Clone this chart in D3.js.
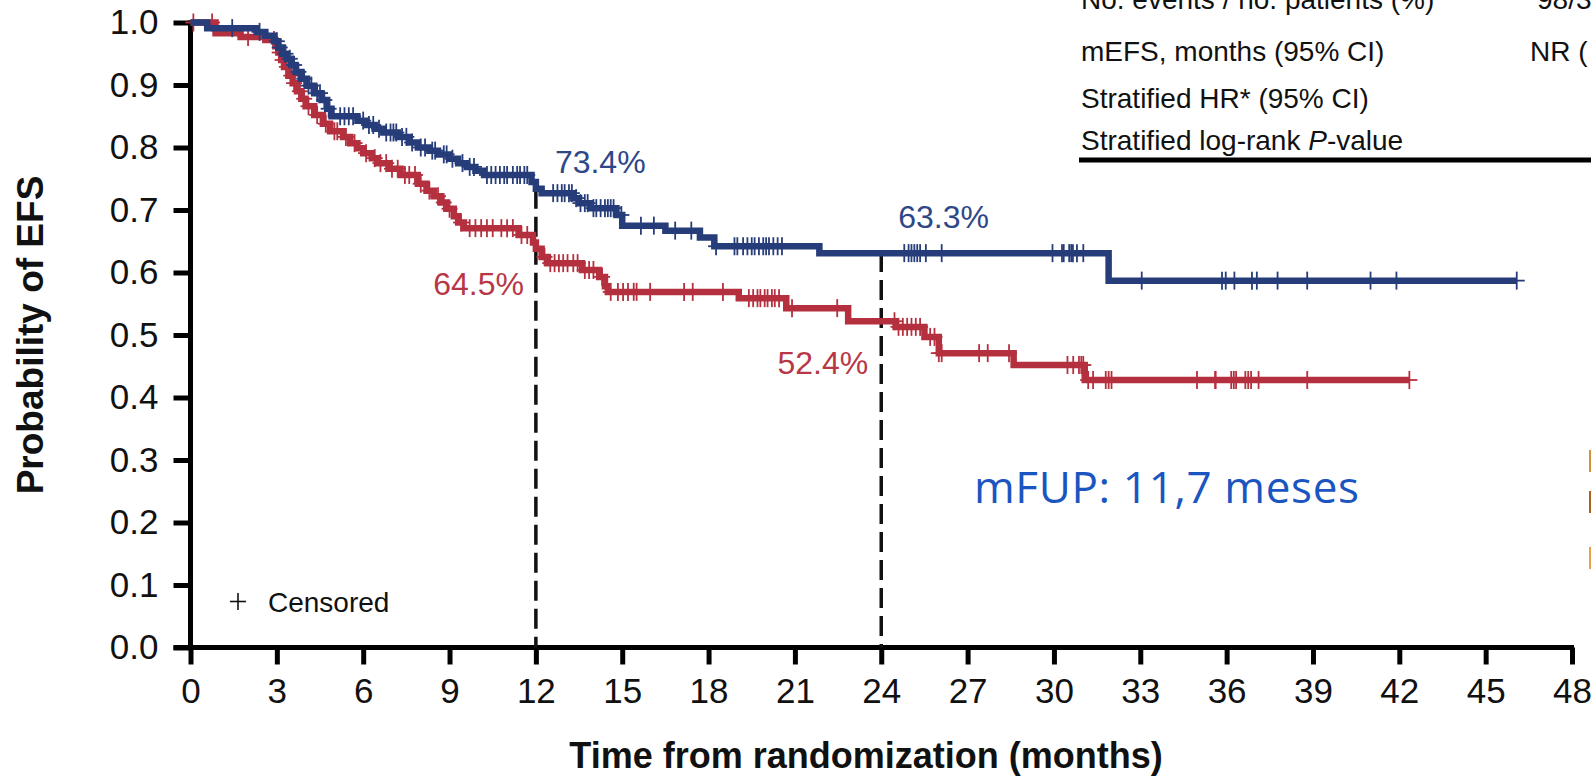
<!DOCTYPE html>
<html><head><meta charset="utf-8">
<script src="https://cdn.jsdelivr.net/npm/d3@7"></script>
<style>body{margin:0;background:#fff;overflow:hidden}svg{display:block}</style>
</head><body><svg id="c" width="1591" height="776"></svg>
<script>
// ---------- data ----------
const xTicks = [0,3,6,9,12,15,18,21,24,27,30,33,36,39,42,45,48];
const yTicks = [0,0.1,0.2,0.3,0.4,0.5,0.6,0.7,0.8,0.9,1.0];

const blueTime = [0,0.58,2.3,2.6,2.9,3.05,3.2,3.35,3.5,3.65,3.85,4.05,4.3,4.55,4.75,4.9,5.8,6.1,6.4,6.7,7.2,7.6,7.9,8.3,8.6,9.0,9.3,9.6,9.9,10.2,11.85,12.0,12.2,13.3,13.5,13.9,14.8,15.0,16.5,17.7,18.2,21.85,31.9];
const blueSurv = [1.0,0.991,0.985,0.979,0.970,0.960,0.950,0.942,0.932,0.921,0.910,0.899,0.887,0.876,0.862,0.850,0.843,0.836,0.830,0.824,0.817,0.808,0.800,0.795,0.789,0.782,0.775,0.769,0.763,0.756,0.745,0.734,0.727,0.719,0.711,0.703,0.692,0.675,0.667,0.656,0.642,0.631,0.587];
const blueEnd = 46.08;
const blueCensor = [1.45,2.4,3.0,3.1,3.3,3.45,3.6,3.75,3.95,4.1,4.2,4.4,4.5,4.65,4.8,5.2,5.35,5.5,5.65,6.0,6.2,6.35,6.55,6.8,6.95,7.05,7.15,7.35,7.5,7.7,8.0,8.15,8.4,8.5,8.8,8.9,9.1,9.45,9.7,9.85,10.3,10.45,10.6,10.75,10.9,11.0,11.2,11.35,11.45,11.6,11.7,12.6,12.75,12.9,13.0,13.15,13.25,13.4,13.55,13.7,13.8,14.0,14.1,14.25,14.4,14.5,14.6,14.7,14.97,15.65,16.1,16.84,17.4,18.26,18.9,19.0,19.2,19.35,19.5,19.6,19.75,19.9,20.0,20.1,20.25,20.4,20.55,24.8,24.95,25.05,25.15,25.25,25.35,25.55,26.1,29.95,30.28,30.34,30.53,30.6,30.66,30.8,31.02,33.05,35.84,35.97,36.27,36.88,37.05,37.77,38.8,41.0,41.9,46.08];

const redTime = [0,0.87,1.74,2.6,2.95,3.05,3.15,3.25,3.4,3.55,3.7,3.85,4.0,4.3,4.6,4.85,5.3,5.55,5.8,6.0,6.3,6.5,6.9,7.3,7.9,8.2,8.45,8.7,8.9,9.15,9.3,9.5,11.4,11.9,12.0,12.2,12.4,13.6,14.2,14.4,14.5,19.05,20.7,22.85,24.5,25.5,26.0,28.6,31.07];
const redSurv = [1.0,0.983,0.977,0.972,0.962,0.952,0.940,0.929,0.915,0.903,0.890,0.878,0.866,0.852,0.838,0.826,0.817,0.807,0.799,0.791,0.783,0.775,0.766,0.756,0.742,0.731,0.722,0.712,0.702,0.690,0.680,0.671,0.660,0.648,0.638,0.625,0.615,0.604,0.593,0.578,0.569,0.559,0.543,0.522,0.513,0.497,0.471,0.452,0.428];
const redEnd = 42.35;
const redCensor = [0.1,0.75,2.0,2.9,3.1,3.2,3.35,3.5,3.6,3.8,3.95,4.1,4.4,4.7,5.0,5.1,5.4,5.7,6.1,6.4,6.6,6.8,7.0,7.2,7.45,7.6,7.8,8.0,8.3,8.6,8.8,9.0,9.4,9.7,9.9,10.1,10.3,10.5,10.8,11.0,11.2,11.5,11.7,12.3,12.5,12.65,12.8,12.95,13.1,13.3,13.45,13.7,13.85,14.0,14.3,14.6,14.85,15.03,15.2,15.4,15.5,15.97,17.15,17.45,18.5,19.4,19.55,19.7,19.8,19.95,20.05,20.2,20.3,20.45,20.9,22.47,24.46,24.6,24.75,24.9,25.05,25.2,25.35,25.7,25.85,26.0,26.1,27.4,27.7,28.44,30.47,30.67,30.87,30.95,31.02,31.19,31.36,31.8,31.9,32.0,34.97,35.6,35.62,36.16,36.25,36.33,36.65,36.75,36.85,37.11,38.8,42.35];

const landmarkMonths = [12, 24];
const landmarkTop = [0.734, 0.633];
const blueLabels = ["73.4%", "63.3%"];
const blueLabelVals = [0.734, 0.633];
const redLabels = ["64.5%", "52.4%"];
const redLabelVals = [0.645, 0.524];

const tableRows = ["No. events / no. patients (%)", "mEFS, months (95% CI)", "Stratified HR* (95% CI)", "Stratified log-rank "];
const tableRight = ["98/3", "NR (", "", ""];

// ---------- drawing ----------
const BLUE = "#263d7a", RED = "#b5303f", BLUE_T = "#2e4787", RED_T = "#b83747";
const FONT = "'Liberation Sans', Arial, sans-serif";
const svg = d3.select("#c");
const x = d3.scaleLinear().domain([0,48]).range([190.5,1572]);
const y = d3.scaleLinear().domain([0,1]).range([647.5,22.5]);

// axes
const gx = svg.append("g").attr("transform", `translate(0,${y(0)})`)
  .call(d3.axisBottom(x).tickValues(xTicks).tickSize(17).tickPadding(14).tickFormat(d3.format("d")));
const gy = svg.append("g").attr("transform", `translate(${x(0)},0)`)
  .call(d3.axisLeft(y).tickValues(yTicks).tickSize(17).tickPadding(15).tickFormat(d3.format(".1f")));
[gx, gy].forEach(g => {
  g.select(".domain").remove();
  g.selectAll(".tick line").attr("stroke", "#000").attr("stroke-width", 5);
  g.selectAll(".tick text").attr("fill", "#111").style("font-family", FONT).style("font-size", "35px");
});
svg.append("line").attr("x1", x(0) - 17).attr("x2", x(48) + 2).attr("y1", y(0)).attr("y2", y(0))
  .attr("stroke", "#000").attr("stroke-width", 5);
svg.append("line").attr("x1", x(0)).attr("x2", x(0)).attr("y1", y(1) - 2).attr("y2", y(0))
  .attr("stroke", "#000").attr("stroke-width", 5);

// axis titles
svg.append("text").attr("x", 866).attr("y", 768).attr("text-anchor", "middle")
  .style("font-family", FONT).style("font-weight", "bold").style("font-size", "36px").attr("fill", "#111")
  .text("Time from randomization (months)");
svg.append("text").attr("transform", `translate(43,${(y(0)+y(1))/2}) rotate(-90)`).attr("text-anchor", "middle")
  .style("font-family", FONT).style("font-weight", "bold").style("font-size", "37px").attr("fill", "#111")
  .text("Probability of EFS");

// landmark dashed lines
landmarkMonths.forEach((m, i) => {
  svg.append("line").attr("x1", x(m)).attr("x2", x(m)).attr("y1", y(landmarkTop[i])).attr("y2", y(0))
    .attr("stroke", "#111").attr("stroke-width", 3.5).attr("stroke-dasharray", "20,8");
});

// curves
function drawArm(times, surv, end, censor, color) {
  const pts = times.map((t, i) => [t, surv[i]]);
  pts.push([end, surv[surv.length - 1]]);
  const line = d3.line().x(d => x(d[0])).y(d => y(d[1])).curve(d3.curveStepAfter);
  svg.append("path").attr("d", line(pts)).attr("fill", "none").attr("stroke", color)
    .attr("stroke-width", 6.5).attr("stroke-linejoin", "miter");
  const valAt = t => surv[Math.max(0, d3.bisectRight(times, t) - 1)];
  const g = svg.append("g").attr("stroke", color).attr("stroke-width", 1.8);
  censor.forEach(t => {
    const cx = x(t), cy = y(valAt(t));
    g.append("line").attr("x1", cx).attr("x2", cx).attr("y1", cy - 9).attr("y2", cy + 9);
    g.append("line").attr("x1", cx - 8).attr("x2", cx + 8).attr("y1", cy).attr("y2", cy);
  });
}
drawArm(redTime, redSurv, redEnd, redCensor, RED);
drawArm(blueTime, blueSurv, blueEnd, blueCensor, BLUE);

// annotations
const ann = svg.append("g").style("font-family", FONT).style("font-size", "32px");
ann.append("text").attr("x", x(12) + 19).attr("y", y(blueLabelVals[0]) - 16).attr("fill", BLUE_T).text(blueLabels[0]);
ann.append("text").attr("x", x(24) + 17).attr("y", y(blueLabelVals[1]) - 24).attr("fill", BLUE_T).text(blueLabels[1]);
ann.append("text").attr("x", x(12) - 12).attr("y", y(redLabelVals[0]) + 51).attr("text-anchor", "end").attr("fill", RED_T).text(redLabels[0]);
ann.append("text").attr("x", x(24) - 13).attr("y", y(redLabelVals[1]) + 54).attr("text-anchor", "end").attr("fill", RED_T).text(redLabels[1]);

// legend
svg.append("line").attr("x1", 230).attr("x2", 246).attr("y1", 601.5).attr("y2", 601.5).attr("stroke", "#111").attr("stroke-width", 1.6);
svg.append("line").attr("x1", 238).attr("x2", 238).attr("y1", 593).attr("y2", 610).attr("stroke", "#111").attr("stroke-width", 1.6);
svg.append("text").attr("x", 268).attr("y", 612).style("font-family", FONT).style("font-size", "28px").attr("fill", "#111").text("Censored");

// mFUP
svg.append("text").attr("x", 974).attr("y", 503).attr("textLength", 385).attr("lengthAdjust", "spacing")
  .style("font-family", "'Open Sans', sans-serif").style("font-size", "44px").attr("fill", "#1a55c0")
  .text("mFUP: 11,7 meses");

// table (top right, partially cropped as in the source)
const rowY = [9, 61, 108, 150];
const tg = svg.append("g").style("font-family", FONT).style("font-size", "28px").attr("fill", "#111");
tableRows.forEach((r, i) => {
  const t = tg.append("text").attr("x", 1081).attr("y", rowY[i]).text(r);
  if (i === 3) { t.append("tspan").style("font-style", "italic").text("P"); t.append("tspan").text("-value"); }
  if (tableRight[i]) tg.append("text").attr("x", i === 0 ? 1537 : 1530).attr("y", rowY[i]).text(tableRight[i]);
});
svg.append("line").attr("x1", 1079).attr("x2", 1591).attr("y1", 160).attr("y2", 160).attr("stroke", "#000").attr("stroke-width", 5);

// cropped legend swatches at right edge
const sw = [[450, "#d4913a"], [491, "#a8621d"], [547, "#e8a24e"]];
sw.forEach(s => svg.append("rect").attr("x", 1589).attr("y", s[0]).attr("width", 2).attr("height", 22).attr("fill", s[1]));
</script></body></html>
